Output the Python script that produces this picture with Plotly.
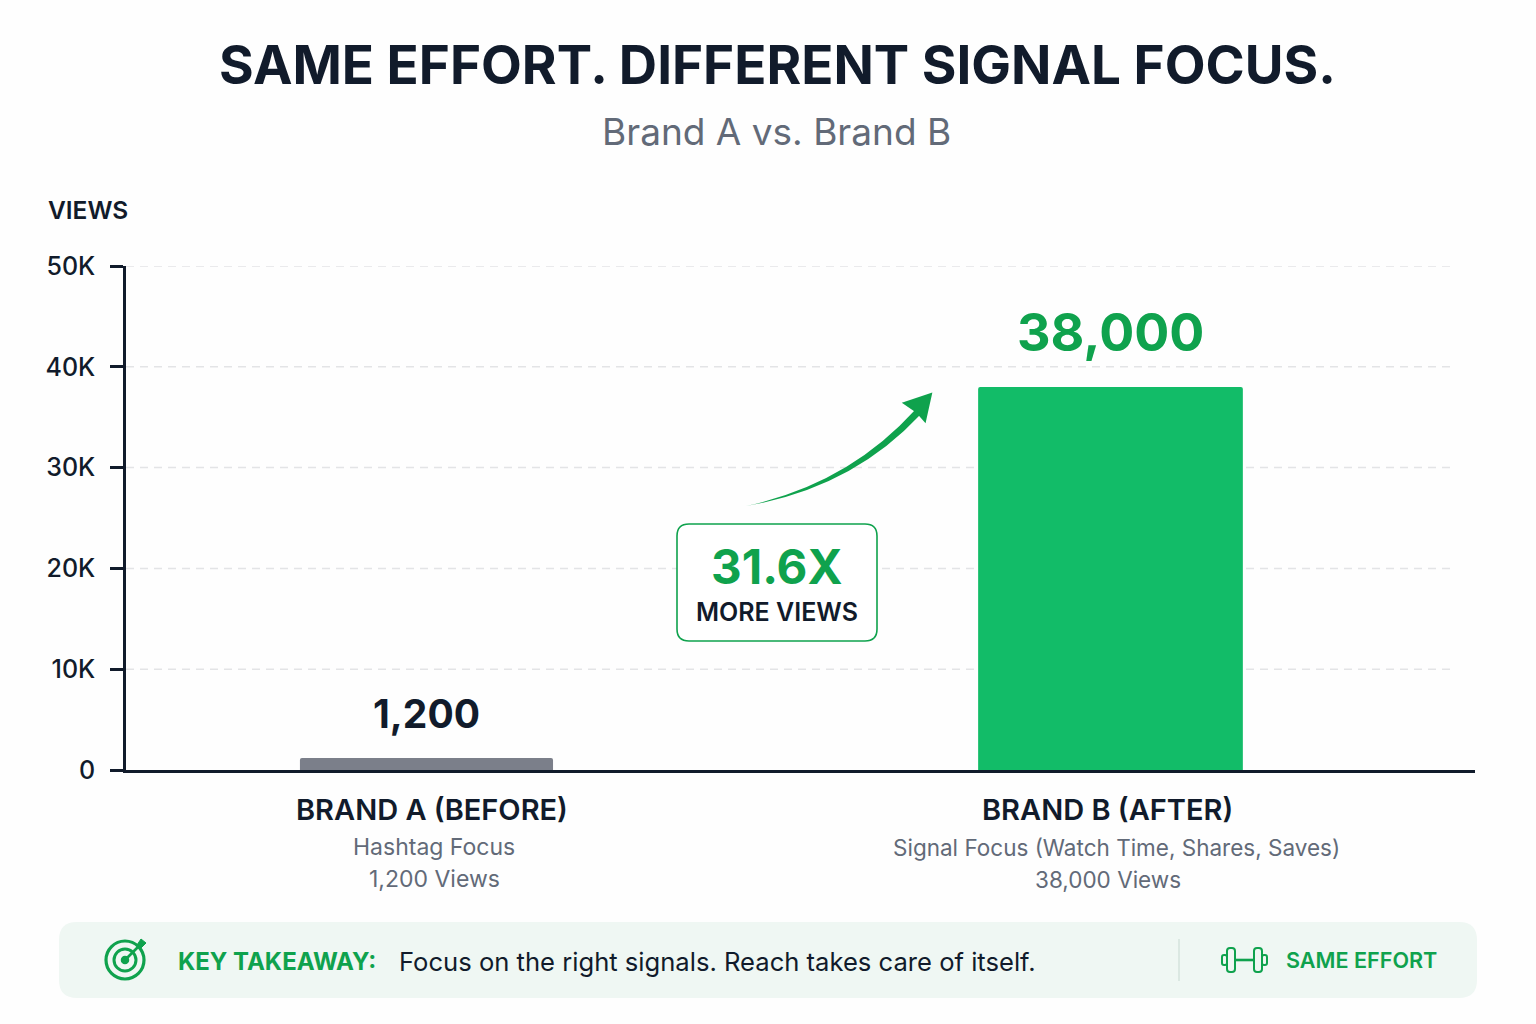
import plotly.graph_objects as go

# Chart data
categories = ["BRAND A (BEFORE)", "BRAND B (AFTER)"]
views = [1200, 38000]
bar_widths = [0.37, 0.387]
bar_colors = ["#7B7F8A", "#12BC68"]
tick_values = [0, 10000, 20000, 30000, 40000, 50000]
tick_labels = ["0", "10K", "20K", "30K", "40K", "50K"]
subtitles = [["Hashtag Focus", "1,200 Views"],
             ["Signal Focus (Watch Time, Shares, Saves)", "38,000 Views"]]

DARK = "#111B2B"
GREEN = "#0FA24D"
GREY = "#626A78"
FONT = "Inter"
W, H = 1536, 1024
L, R, T, B = 126, 1475, 266, 770


def px(x):
    return (x - L) / (R - L)


def py(y):
    return (B - y) / (B - T)


def path(points):
    """Build an SVG path in paper space from (command, x, y, ...) tuples."""
    parts = []
    for p in points:
        if p[0] == "Z":
            parts.append("Z")
            continue
        coords = p[1:]
        vals = [f"{px(coords[i]):.5f},{py(coords[i + 1]):.5f}" for i in range(0, len(coords), 2)]
        parts.append(p[0] + " ".join(vals))
    return " ".join(parts)


def rounded(x0, y0, x1, y1, r):
    return path([("M", x0 + r, y0), ("L", x1 - r, y0), ("Q", x1, y0, x1, y0 + r),
                 ("L", x1, y1 - r), ("Q", x1, y1, x1 - r, y1), ("L", x0 + r, y1),
                 ("Q", x0, y1, x0, y1 - r), ("L", x0, y0 + r), ("Q", x0, y0, x0 + r, y0), ("Z",)])


def text(x, y, s, size, color, weight=400, anchor="center"):
    return dict(xref="paper", yref="paper", x=px(x), y=py(y), text=s, showarrow=False,
                xanchor=anchor, yanchor="middle", align=anchor,
                font=dict(family=FONT, size=size, color=color, weight=weight))


def pshape(d, fill=None, line=None, width=0, layer="above"):
    return dict(type="path", xref="paper", yref="paper", path=d, layer=layer,
                fillcolor=fill or "rgba(0,0,0,0)",
                line=dict(color=line or "rgba(0,0,0,0)", width=width))


def ring(cx, cy, r, color, width, fill=None):
    return dict(type="circle", xref="paper", yref="paper", layer="above",
                x0=px(cx - r), x1=px(cx + r), y0=py(cy + r), y1=py(cy - r),
                fillcolor=fill or "rgba(0,0,0,0)",
                line=dict(color=color, width=width))


def seg(x0, y0, x1, y1, color, width, dash="solid", layer="above"):
    return dict(type="line", xref="paper", yref="paper", layer=layer,
                x0=px(x0), x1=px(x1), y0=py(y0), y1=py(y1),
                line=dict(color=color, width=width, dash=dash))


shapes = []

# Dashed guides stop short of the end of the baseline
for v in tick_values[1:]:
    shapes.append(dict(type="line", xref="paper", yref="y", layer="below",
                       x0=0, x1=px(1450), y0=v, y1=v,
                       line=dict(color="#E3E4E6", width=1.5, dash="8px,6px")))

# Curved, tapered growth arrow
shapes.append(pshape(path([
    ("M", 746, 506), ("Q", 848, 484, 915, 410), ("L", 920, 415),
    ("Q", 852, 488, 746, 506), ("Z",)]), fill=GREEN))
shapes.append(pshape(path([
    ("M", 931, 394), ("L", 925, 421), ("L", 917, 412), ("L", 904, 403), ("Z",)]),
    fill=GREEN, line=GREEN, width=2))

# Multiplier callout
shapes.append(pshape(rounded(677, 524, 877, 641, 12), fill="#FFFFFF", line=GREEN, width=1.6))

# Footer strip
shapes.append(pshape(rounded(59, 922, 1477, 998, 18), fill="#EFF7F3"))
shapes.append(seg(1179, 939, 1179, 981, "#D5E3DC", 1.5))

# Target icon
shapes.append(ring(125, 960, 19, GREEN, 3.2))
shapes.append(ring(125, 960, 11, GREEN, 3))
shapes.append(ring(125, 960, 3.5, GREEN, 1.5, fill=GREEN))
shapes.append(seg(125, 960, 141, 944, GREEN, 2.6))
shapes.append(pshape(path([("M", 141, 939), ("L", 146, 943), ("L", 141, 948), ("L", 137, 945), ("Z",)]),
                     fill=GREEN, line=GREEN, width=1))

# Dumbbell icon
shapes.append(pshape(rounded(1227, 948, 1235, 972, 3), line=GREEN, width=2))
shapes.append(pshape(rounded(1254, 948, 1262, 972, 3), line=GREEN, width=2))
shapes.append(pshape(rounded(1222, 955, 1227, 965, 2), line=GREEN, width=2))
shapes.append(pshape(rounded(1262, 955, 1267, 965, 2), line=GREEN, width=2))
shapes.append(seg(1235, 960, 1254, 960, GREEN, 2.6))

annotations = [
    text(777, 65, "SAME EFFORT. DIFFERENT SIGNAL FOCUS.", 53, DARK, 700),
    text(776, 131, "Brand A vs. Brand B", 37, GREY, 400),
    text(46, 210, "VIEWS", 24.5, DARK, 600, "left"),
    text(777, 566, "31.6X", 47.5, GREEN, 700),
    text(777, 612, "MORE VIEWS", 25, DARK, 600),
    text(176, 961, "KEY TAKEAWAY:", 24, GREEN, 700, "left"),
    text(397, 961, "Focus on the right signals. Reach takes care of itself.", 25.6, DARK, 400, "left"),
    text(1284, 960, "SAME EFFORT", 21.6, GREEN, 600, "left"),
]

# Value labels sit above their bars
value_styles = [(DARK, 39, 44), (GREEN, 52, 54)]
for cat, v, (color, size, lift) in zip(categories, views, value_styles):
    annotations.append(dict(x=cat, y=v, xref="x", yref="y", text=f"{v:,}", showarrow=False,
                            yanchor="middle", yshift=lift,
                            font=dict(family=FONT, size=size, color=color, weight=700)))

# Category captions under the baseline
caption_sizes = [23, 22.5]
for cat, subs, cx, sx, sz in zip(categories, subtitles, [432, 1107], [434, 1116], caption_sizes):
    annotations.append(text(cx, 809, cat, 29, DARK, 600))
    annotations.append(text(sx, 847, subs[0], sz, GREY, 400))
    annotations.append(text(sx if sx < 500 else 1108, 879, subs[1], sz, GREY, 400))

fig = go.Figure(go.Bar(x=categories, y=views, width=bar_widths,
                       marker=dict(color=bar_colors, line=dict(width=0), cornerradius=2),
                       hoverinfo="skip"))

fig.update_layout(
    width=W, height=H,
    margin=dict(l=L, r=W - R, t=T, b=H - B, pad=0),
    paper_bgcolor="#FEFEFE", plot_bgcolor="rgba(0,0,0,0)",
    showlegend=False, shapes=shapes, annotations=annotations,
    font=dict(family=FONT, color=DARK),
)
fig.update_xaxes(type="category", range=[-0.4393, 1.5329], showgrid=False, zeroline=False,
                 showline=True, linecolor=DARK, linewidth=2.5, showticklabels=False, ticks="")
fig.update_yaxes(range=[0, 50000], tickvals=tick_values, ticktext=tick_labels,
                 showgrid=False, zeroline=False, showline=True, linecolor=DARK, linewidth=2.5,
                 ticks="outside", ticklen=13, tickwidth=2.5, tickcolor=DARK,
                 ticklabelstandoff=10,
                 tickfont=dict(family=FONT, size=25, color=DARK, weight=500))

fig.write_html("out.html")
